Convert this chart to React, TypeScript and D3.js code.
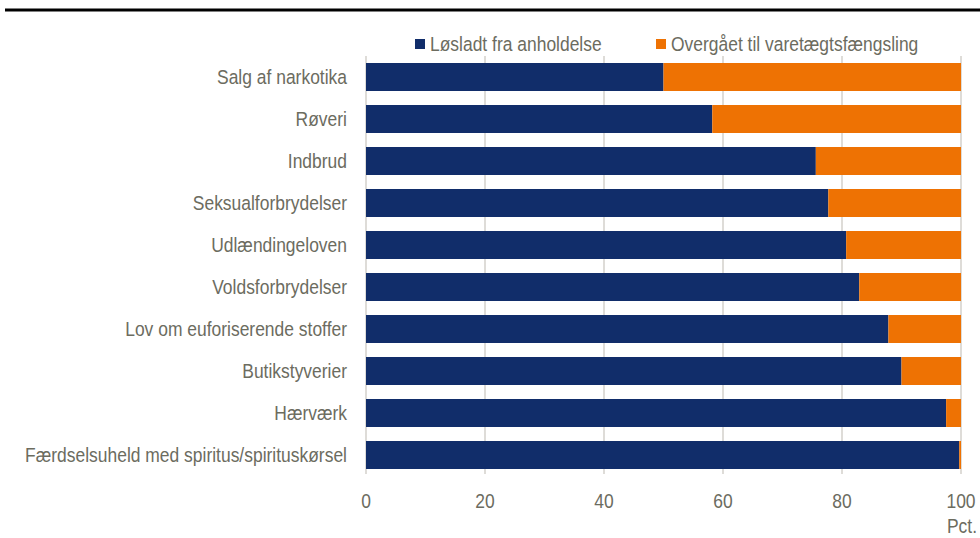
import React from "react";
import * as d3 from "d3";

const categories = [
  "Salg af narkotika",
  "Røveri",
  "Indbrud",
  "Seksualforbrydelser",
  "Udlændingeloven",
  "Voldsforbrydelser",
  "Lov om euforiserende stoffer",
  "Butikstyverier",
  "Hærværk",
  "Færdselsuheld med spiritus/spirituskørsel",
];
const loesladt = [50.0, 58.2, 75.6, 77.7, 80.7, 82.9, 87.8, 90.0, 97.5, 99.7];
const overgaaet = [50.0, 41.8, 24.4, 22.3, 19.3, 17.1, 12.2, 10.0, 2.5, 0.3];
const seriesNames = ["Løsladt fra anholdelse", "Overgået til varetægtsfængsling"];
const xTicks = [0, 20, 40, 60, 80, 100];

const W = 980;
const H = 538;
const NAVY = "#112d6a";
const ORANGE = "#ee7203";
const TEXT = "#6c6c5f";
const FONT = "'Liberation Sans', Arial, sans-serif";
const FS = 19.5;
const SX = 0.895;

function NText({ x, y, anchor = "start", dy, children }: { x: number; y: number; anchor?: string; dy?: string; children: React.ReactNode }) {
  return (
    <text transform={`translate(${x},${y}) scale(${SX},1)`} textAnchor={anchor} dy={dy} fontSize={FS} fill={TEXT}>
      {children}
    </text>
  );
}

export default function App() {
  const x = d3.scaleLinear().domain([0, 100]).range([366, 961]);
  const y = d3.scaleBand<string>().domain(categories).range([56, 476]).paddingInner(1 / 3).paddingOuter(1 / 6);
  const bw = y.bandwidth();
  return (
    <svg width={W} height={H} style={{ position: "absolute", left: 0, top: 0, background: "#fff" }} fontFamily={FONT}>
      <line x1={5} x2={980} y1={10} y2={10} stroke="#000" strokeWidth={3} />
      {/* legend */}
      <rect x={415} y={39} width={10} height={10} fill={NAVY} />
      <NText x={430} y={51}>{seriesNames[0]}</NText>
      <rect x={656} y={39} width={10} height={10} fill={ORANGE} />
      <NText x={671} y={51}>{seriesNames[1]}</NText>
      {/* grid */}
      {xTicks.map((t) => (
        <line key={"g" + t} x1={x(t)} x2={x(t)} y1={56} y2={474} stroke="#d3d1cb" strokeWidth={1.5} />
      ))}
      {/* bars */}
      {categories.map((c, i) => (
        <g key={c}>
          <rect x={x(0)} y={y(c)} width={x(loesladt[i]) - x(0)} height={bw} fill={NAVY} />
          <rect x={x(loesladt[i])} y={y(c)} width={x(loesladt[i] + overgaaet[i]) - x(loesladt[i])} height={bw} fill={ORANGE} />
          <NText x={347} y={(y(c) as number) + bw / 2} anchor="end" dy="0.35em">{c}</NText>
        </g>
      ))}
      {/* x tick labels */}
      {xTicks.map((t) => (
        <NText key={"t" + t} x={x(t)} y={508} anchor="middle">{t}</NText>
      ))}
      <NText x={977} y={533} anchor="end">Pct.</NText>
    </svg>
  );
}
